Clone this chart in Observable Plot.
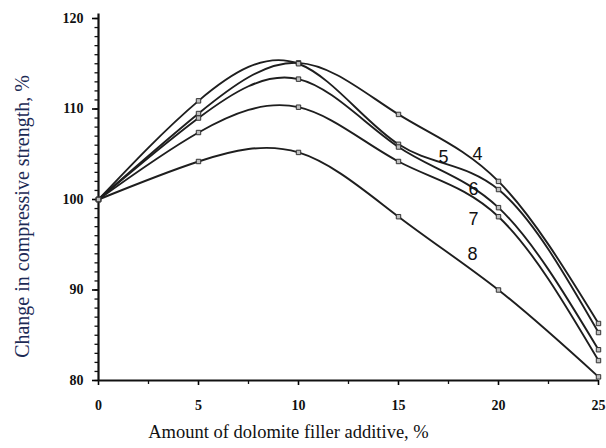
<!DOCTYPE html>
<html>
<head>
<meta charset="utf-8">
<script src="https://cdn.jsdelivr.net/npm/d3@7"></script>
<script src="https://cdn.jsdelivr.net/npm/@observablehq/plot@0.6"></script>
<style>
  html, body { margin: 0; padding: 0; background: #fff; }
  #chart svg { display: block; }
</style>
</head>
<body>
<div id="chart"></div>
<script>
const xs = [0, 5, 10, 15, 20, 25];
const series4 = [100, 109.5, 115.1, 109.4, 102.0, 86.3];
const series5 = [100, 110.9, 115.0, 106.1, 101.1, 85.3];
const series6 = [100, 109.0, 113.3, 105.8, 99.1, 83.4];
const series7 = [100, 107.4, 110.2, 104.2, 98.1, 82.2];
const series8 = [100, 104.2, 105.2, 98.1, 90.0, 80.4];
const seriesNames = ["4", "5", "6", "7", "8"];
const labelX = [18.95, 17.25, 18.75, 18.75, 18.7];
const labelY = [105.0, 104.7, 101.1, 97.8, 93.9];
const xTicks = [0, 5, 10, 15, 20, 25];
const xMinor = [2.5, 7.5, 12.5, 17.5, 22.5];
const yTicks = [80, 90, 100, 110, 120];
const yMinor = d3.range(80, 121, 1);
const xTitle = "Amount of dolomite filler additive, %";
const yTitle = "Change in compressive strength, %";

const allSeries = [series4, series5, series6, series7, series8];
const rows = allSeries.flatMap((vals, i) => xs.map((x, j) => ({series: seriesNames[i], x, y: vals[j]})));
const labels = seriesNames.map((s, i) => ({s, x: labelX[i], y: labelY[i]}));

const chart = Plot.plot({
  width: 606,
  height: 448,
  marginLeft: 98,
  marginRight: 8,
  marginTop: 18,
  marginBottom: 68,
  x: {domain: [0, 25]},
  y: {domain: [80, 120]},
  style: {background: "#fff"},
  marks: [
    Plot.axisY(yMinor, {tickSize: 3.5, text: null, label: null, strokeWidth: 1.3, stroke: "#111"}),
    Plot.axisY(yTicks, {tickSize: 6, tickPadding: 9, label: null, fontSize: 14, fontWeight: "bold", fontFamily: "Liberation Serif", fill: "#111", strokeWidth: 1.6}),
    Plot.axisX(xMinor, {tickSize: 4, text: null, label: null, strokeWidth: 1.3, stroke: "#111"}),
    Plot.axisX(xTicks, {tickSize: 5, tickPadding: 15, label: null, fontSize: 14, fontWeight: "bold", fontFamily: "Liberation Serif", fill: "#111", strokeWidth: 1.6}),
    Plot.ruleX([0], {stroke: "#111", strokeWidth: 2.2, y1: 80, y2: 120.5}),
    Plot.ruleY([80], {stroke: "#111", strokeWidth: 2}),
    Plot.line(rows, {x: "x", y: "y", z: "series", curve: "natural", stroke: "#1e1e1e", strokeWidth: 1.9}),
    Plot.dot(rows, {x: "x", y: "y", symbol: "square", r: 2.5, fill: "#bdbdbd", stroke: "#333", strokeWidth: 1}),
    Plot.text(labels, {x: "x", y: "y", text: "s", fontSize: 18, fontFamily: "Liberation Sans", fill: "#111"}),
    Plot.text([xTitle], {frameAnchor: "bottom", dx: -60, dy: 57, fontSize: 18.5, fontFamily: "Liberation Serif", fill: "#111"}),
    Plot.text([yTitle], {frameAnchor: "left", textAnchor: "middle", rotate: -90, dx: -76, dy: 17, fontSize: 20, fontFamily: "Liberation Serif", fill: "#1c2a55"})
  ]
});
document.getElementById("chart").appendChild(chart);
</script>
</body>
</html>
